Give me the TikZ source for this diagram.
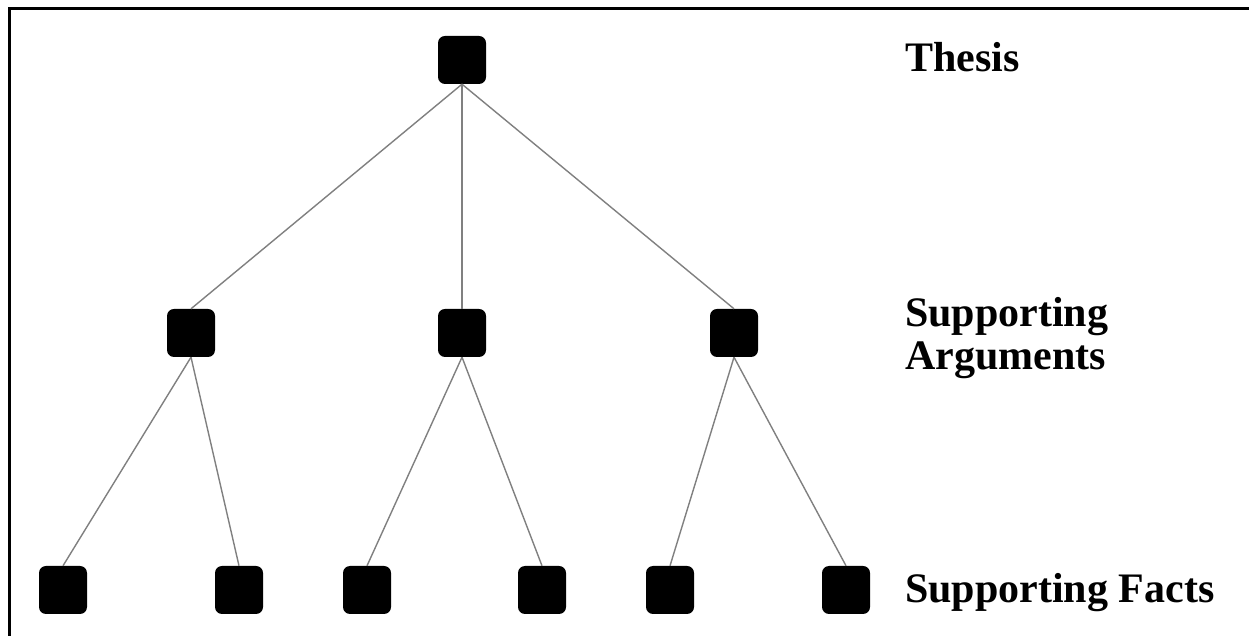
\documentclass[tikz,border=0pt]{standalone}
\usepackage{fontspec}
\setmainfont{Liberation Serif}
\begin{document}
\begin{tikzpicture}[x=1pt,y=1pt,
  box/.style={rectangle,fill=black,draw=none,minimum size=48pt,inner sep=0pt,rounded corners=7pt},
  link/.style={draw=black!50,line width=1.4pt},
  label/.style={font=\bfseries\fontsize{42}{43}\selectfont,inner sep=0pt,align=left}]
\useasboundingbox (0,0) rectangle (1249,636);
\fill[white] (0,0) rectangle (1249,636);
% frame (top and left only)
\draw[line width=3pt] (9.5,0) -- (9.5,627) -- (1249,627);
% nodes
\node[box] (t) at (462,576) {};
\node[box] (a1) at (191,303) {};
\node[box] (a2) at (462,303) {};
\node[box] (a3) at (734,303) {};
\node[box] (f1) at (63,46) {};
\node[box] (f2) at (239,46) {};
\node[box] (f3) at (367,46) {};
\node[box] (f4) at (542,46) {};
\node[box] (f5) at (670,46) {};
\node[box] (f6) at (846,46) {};
% links
\draw[link] (t.south) -- (a1.north);
\draw[link] (t.south) -- (a2.north);
\draw[link] (t.south) -- (a3.north);
\draw[link] (a1.south) -- (f1.north);
\draw[link] (a1.south) -- (f2.north);
\draw[link] (a2.south) -- (f3.north);
\draw[link] (a2.south) -- (f4.north);
\draw[link] (a3.south) -- (f5.north);
\draw[link] (a3.south) -- (f6.north);
% labels
\node[label,anchor=base west] (lt) at (905,564) {Thesis};
\node[label,anchor=base west] (la) at (905,266) {Supporting\\Arguments};
\node[label,anchor=base west] (lf) at (905,33) {Supporting Facts};
\end{tikzpicture}
\end{document}
